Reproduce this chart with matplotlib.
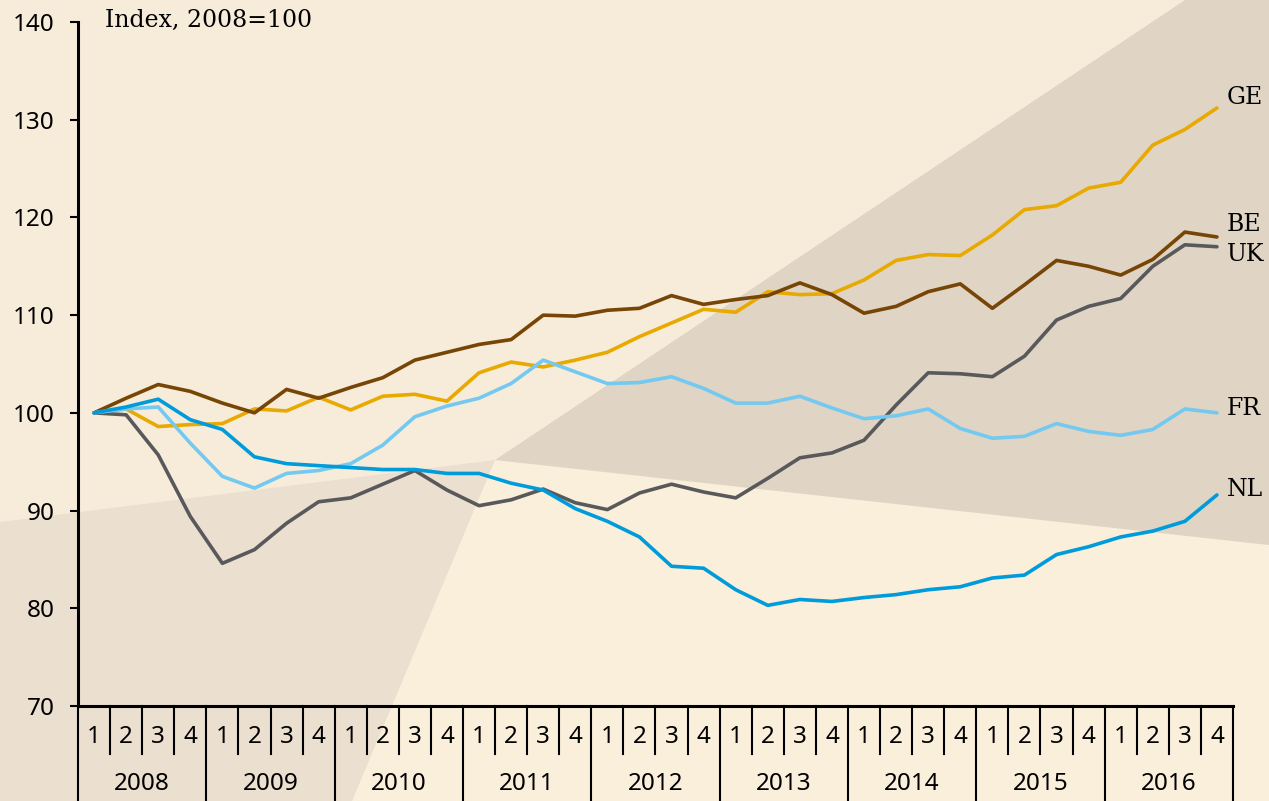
import matplotlib
matplotlib.use("Agg")
import matplotlib.pyplot as plt
from matplotlib.patches import Polygon
from matplotlib.transforms import blended_transform_factory

# ---------------- data ----------------
years = ["2008", "2009", "2010", "2011", "2012", "2013", "2014", "2015", "2016"]
quarters = ["1", "2", "3", "4"]

GE = [100.0, 100.4, 98.6, 98.8, 98.9, 100.4, 100.2, 101.6, 100.3, 101.7, 101.9, 101.2,
      104.1, 105.2, 104.7, 105.4, 106.2, 107.8, 109.2, 110.6, 110.3, 112.4, 112.1, 112.2,
      113.6, 115.6, 116.2, 116.1, 118.2, 120.8, 121.2, 123.0, 123.6, 127.4, 129.0, 131.2]
BE = [100.0, 101.5, 102.9, 102.2, 101.0, 100.0, 102.4, 101.5, 102.6, 103.6, 105.4, 106.2,
      107.0, 107.5, 110.0, 109.9, 110.5, 110.7, 112.0, 111.1, 111.6, 112.0, 113.3, 112.1,
      110.2, 110.9, 112.4, 113.2, 110.7, 113.1, 115.6, 115.0, 114.1, 115.7, 118.5, 118.0]
UK = [100.0, 99.8, 95.7, 89.4, 84.6, 86.0, 88.7, 90.9, 91.3, 92.7, 94.1, 92.1,
      90.5, 91.1, 92.2, 90.8, 90.1, 91.8, 92.7, 91.9, 91.3, 93.3, 95.4, 95.9,
      97.2, 100.8, 104.1, 104.0, 103.7, 105.8, 109.5, 110.9, 111.7, 115.0, 117.2, 117.0]
FR = [100.0, 100.4, 100.6, 96.9, 93.5, 92.3, 93.8, 94.1, 94.8, 96.7, 99.6, 100.7,
      101.5, 103.0, 105.4, 104.2, 103.0, 103.1, 103.7, 102.5, 101.0, 101.0, 101.7, 100.5,
      99.4, 99.7, 100.4, 98.4, 97.4, 97.6, 98.9, 98.1, 97.7, 98.3, 100.4, 100.0]
NL = [100.0, 100.6, 101.4, 99.3, 98.3, 95.5, 94.8, 94.6, 94.4, 94.2, 94.2, 93.8,
      93.8, 92.8, 92.1, 90.2, 88.9, 87.3, 84.3, 84.1, 81.9, 80.3, 80.9, 80.7,
      81.1, 81.4, 81.9, 82.2, 83.1, 83.4, 85.5, 86.3, 87.3, 87.9, 88.9, 91.6]

series_names = ["GE", "BE", "UK", "FR", "NL"]
series_values = [GE, BE, UK, FR, NL]
series_colors = ["#E8A900", "#774506", "#59595B", "#74C9F0", "#009BDA"]
label_y = [132.3, 119.3, 116.2, 100.4, 92.2]

yticks = [70, 80, 90, 100, 110, 120, 130, 140]

# ---------------- figure ----------------
W, H = 1269, 801
fig = plt.figure(figsize=(W / 100, H / 100), dpi=100)
fig.patch.set_facecolor("#F7ECDA")

# decorative background
bg = fig.add_axes([0, 0, 1, 1], zorder=0)
bg.set_xlim(0, W)
bg.set_ylim(H, 0)
bg.axis("off")
bg.add_patch(Polygon([(0, 0), (W, 0), (W, H), (0, H)], closed=True,
                     facecolor="#F7ECDA", edgecolor="none"))
bg.add_patch(Polygon([(495, 460), (W, 545), (W, H), (352, H)], closed=True,
                     facecolor="#FAEFDB", edgecolor="none"))
bg.add_patch(Polygon([(0, 522), (495, 460), (352, H), (0, H)], closed=True,
                     facecolor="#EBDFCF", edgecolor="none"))
bg.add_patch(Polygon([(495, 460), (1185, 0), (W, 0), (W, 545)], closed=True,
                     facecolor="#E0D4C5", edgecolor="none"))

# main axes
L, R, T, B = 78, 1233, 22, 706
ax = fig.add_axes([L / W, (H - B) / H, (R - L) / W, (B - T) / H], zorder=1)
ax.patch.set_alpha(0)

n = len(GE)
xs = list(range(n))
for name, vals, col in zip(series_names, series_values, series_colors):
    ax.plot(xs, vals, color=col, lw=2.6, solid_joinstyle="round",
            solid_capstyle="round", clip_on=False, zorder=3)

ax.set_xlim(-0.5, n - 0.5)
ax.set_ylim(70, 140)

for s in ["top", "right"]:
    ax.spines[s].set_visible(False)
ax.spines["left"].set_linewidth(2.2)
ax.spines["bottom"].set_linewidth(2.2)

ax.set_yticks(yticks)
ax.set_yticklabels([str(v) for v in yticks])
ax.tick_params(axis="y", length=6, width=1.5, pad=11, labelsize=17.5)
for lab in ax.get_yticklabels():
    lab.set_family(["Noto Sans", "DejaVu Sans"])
ax.set_xticks([])

# quarter / year scale below the axis
tr = blended_transform_factory(ax.transData, ax.transAxes)
ah = B - T
q_bot = -(754 - B) / ah
y_bot = -(H - B + 2) / ah
for k in range(n + 1):
    low = y_bot if k % 4 == 0 else q_bot
    ax.plot([k - 0.5, k - 0.5], [0, low], transform=tr, color="black",
            lw=1.5, clip_on=False, zorder=4)
for i in range(n):
    ax.text(i, -(737 - B) / ah, quarters[i % 4], transform=tr, ha="center",
            va="center", fontsize=17.5, family=["Noto Sans", "DejaVu Sans"])
for j, yr in enumerate(years):
    ax.text(4 * j + 1.5, -(784 - B) / ah, yr, transform=tr, ha="center",
            va="center", fontsize=17.5, family=["Noto Sans", "DejaVu Sans"])

# labels
ax.text(0.34, 140.2, "Index, 2008=100", ha="left", va="center", fontsize=17,
        family=["DejaVu Serif"], clip_on=False)
for name, ly in zip(series_names, label_y):
    ax.text(n - 1 + 0.3, ly, name, ha="left", va="center", fontsize=17,
            family=["DejaVu Serif"], clip_on=False)

fig.savefig("out.png", dpi=100)
